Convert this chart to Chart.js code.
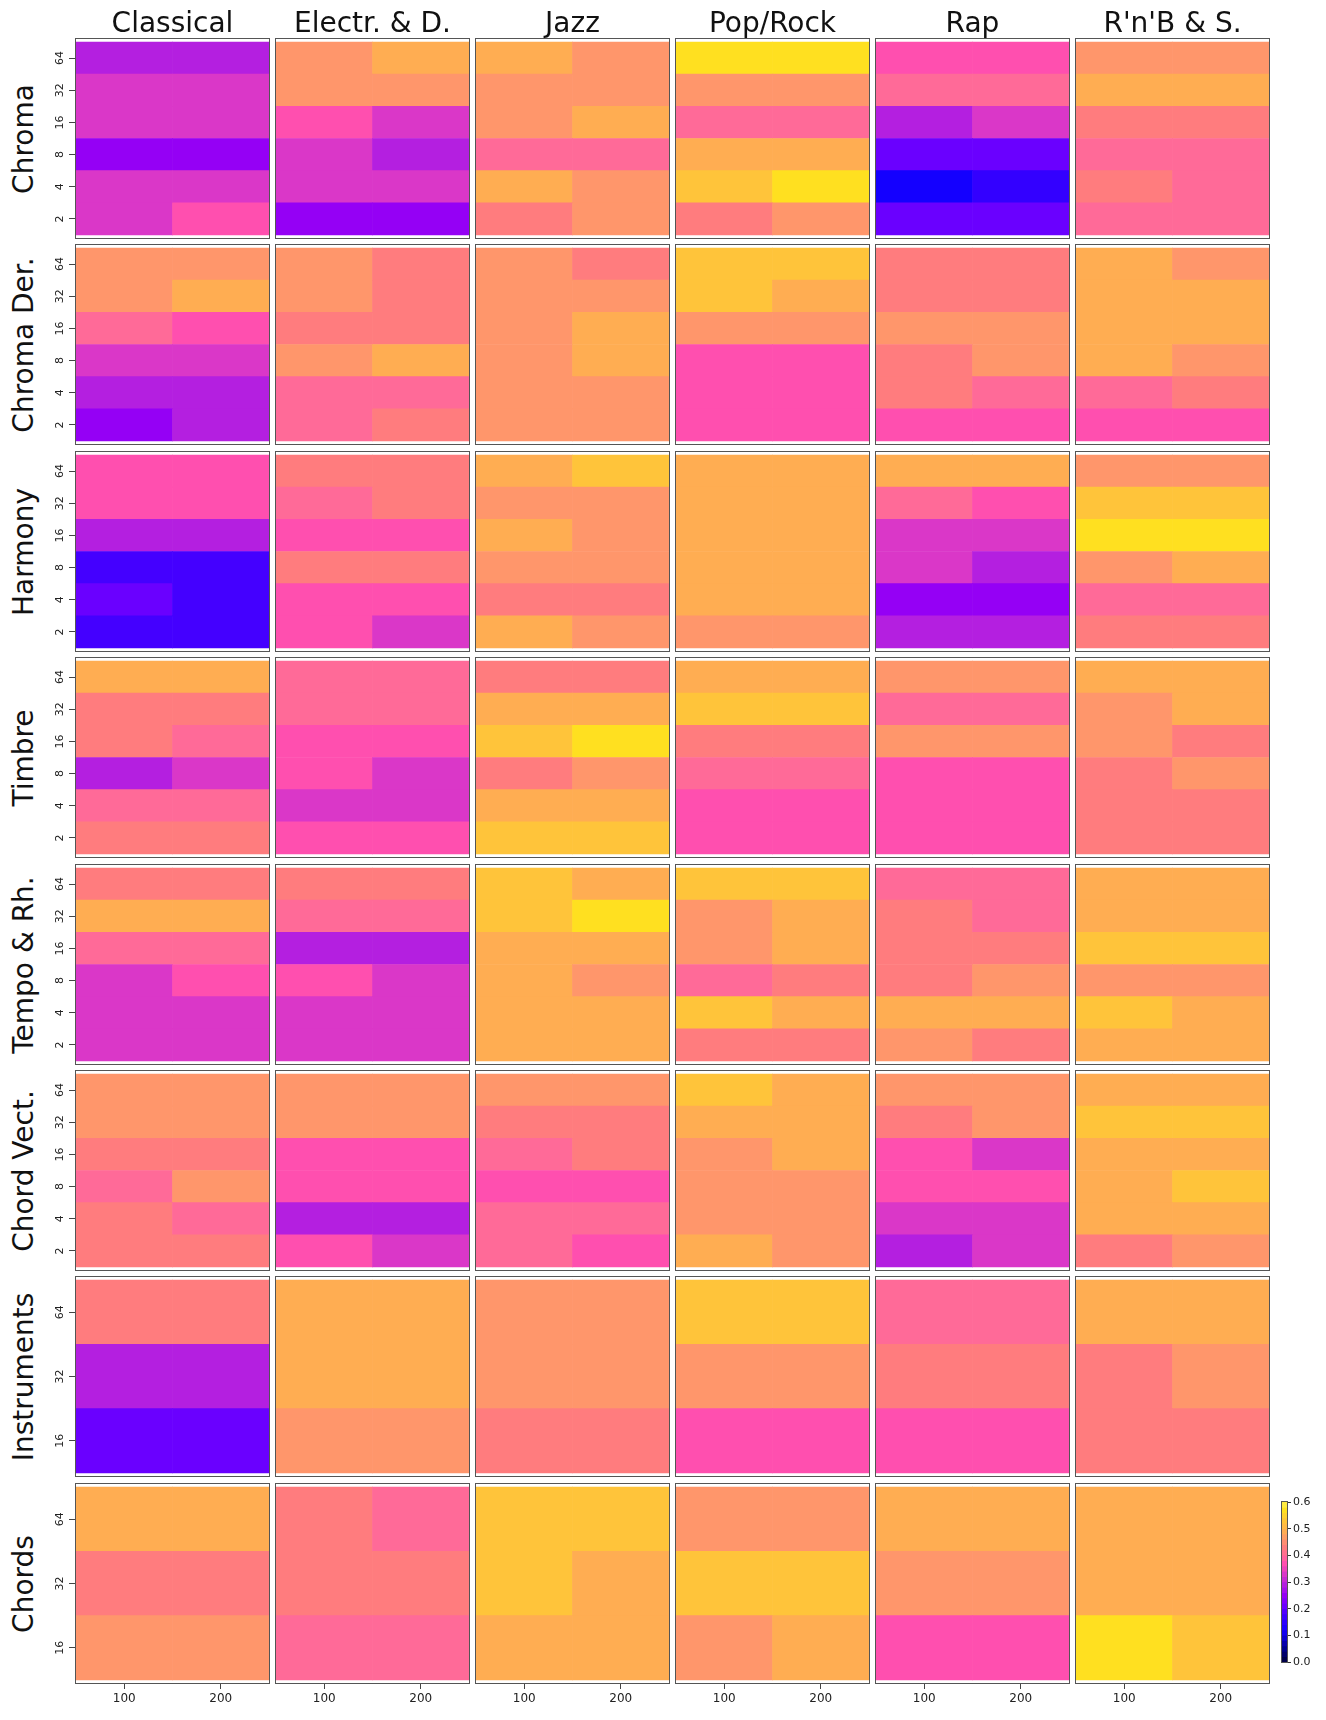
<!DOCTYPE html>
<html>
<head>
<meta charset="utf-8">
<script src="https://cdn.jsdelivr.net/npm/chart.js@4.4.0/dist/chart.umd.min.js"></script>
<style>
  body { margin: 0; background: #fff; }
  #page { position: relative; width: 1326px; height: 1720px; font-family: "DejaVu Sans", sans-serif; color: #111; }
  #page canvas { position: absolute; }
  .head { position: absolute; height: 34px; line-height: 34px; font-size: 28px; text-align: center; white-space: nowrap; }
  .rowlab { position: absolute; width: 220px; height: 34px; line-height: 34px; font-size: 28px; text-align: center; white-space: nowrap; transform: rotate(-90deg); }
</style>
</head>
<body>
<div id="page"></div>
<script>
// Categories
const genres = ['Classical', 'Electr. & D.', 'Jazz', 'Pop/Rock', 'Rap', "R'n'B & S."];
const features = ['Chroma', 'Chroma Der.', 'Harmony', 'Timbre', 'Tempo & Rh.', 'Chord Vect.', 'Instruments', 'Chords'];
const windowsLong = ['64', '32', '16', '8', '4', '2'];
const windowsShort = ['64', '32', '16'];
const xTicks = [100, 200];
const colorTicks = [0, 0.1, 0.2, 0.3, 0.4, 0.5, 0.6];

// values: one entry per genre, rows from top (64) to bottom, [100, 200]
const chroma = [
  [[.29,.29],[.33,.33],[.33,.33],[.25,.25],[.33,.33],[.33,.37]],
  [[.46,.49],[.46,.46],[.37,.33],[.33,.29],[.33,.33],[.25,.25]],
  [[.49,.46],[.46,.46],[.46,.49],[.40,.40],[.49,.46],[.43,.46]],
  [[.57,.57],[.46,.46],[.40,.40],[.49,.49],[.53,.57],[.43,.46]],
  [[.37,.37],[.40,.40],[.29,.33],[.21,.21],[.12,.16],[.21,.21]],
  [[.46,.46],[.49,.49],[.43,.43],[.40,.40],[.43,.40],[.40,.40]]
];
const chromaDer = [
  [[.46,.46],[.46,.49],[.40,.37],[.33,.33],[.29,.29],[.25,.29]],
  [[.46,.43],[.46,.43],[.43,.43],[.46,.49],[.40,.40],[.40,.43]],
  [[.46,.43],[.46,.46],[.46,.49],[.46,.49],[.46,.46],[.46,.46]],
  [[.53,.53],[.53,.49],[.46,.46],[.37,.37],[.37,.37],[.37,.37]],
  [[.43,.43],[.43,.43],[.46,.46],[.43,.46],[.43,.40],[.37,.37]],
  [[.49,.46],[.49,.49],[.49,.49],[.49,.46],[.40,.43],[.37,.37]]
];
const harmony = [
  [[.37,.37],[.37,.37],[.29,.29],[.18,.18],[.21,.18],[.18,.18]],
  [[.43,.43],[.40,.43],[.37,.37],[.43,.43],[.37,.37],[.37,.33]],
  [[.49,.53],[.46,.46],[.49,.46],[.46,.46],[.43,.43],[.49,.46]],
  [[.49,.49],[.49,.49],[.49,.49],[.49,.49],[.49,.49],[.46,.46]],
  [[.49,.49],[.40,.37],[.33,.33],[.33,.29],[.25,.25],[.29,.29]],
  [[.46,.46],[.53,.53],[.57,.57],[.46,.49],[.40,.40],[.43,.43]]
];
const timbre = [
  [[.49,.49],[.43,.43],[.43,.40],[.29,.33],[.40,.40],[.43,.43]],
  [[.40,.40],[.40,.40],[.37,.37],[.37,.33],[.33,.33],[.37,.37]],
  [[.43,.43],[.49,.49],[.53,.57],[.43,.46],[.49,.49],[.53,.53]],
  [[.49,.49],[.53,.53],[.43,.43],[.40,.40],[.37,.37],[.37,.37]],
  [[.46,.46],[.40,.40],[.46,.46],[.37,.37],[.37,.37],[.37,.37]],
  [[.49,.49],[.46,.49],[.46,.43],[.43,.46],[.43,.43],[.43,.43]]
];
const tempo = [
  [[.43,.43],[.49,.49],[.40,.40],[.33,.37],[.33,.33],[.33,.33]],
  [[.43,.43],[.40,.40],[.29,.29],[.37,.33],[.33,.33],[.33,.33]],
  [[.53,.49],[.53,.57],[.49,.49],[.49,.46],[.49,.49],[.49,.49]],
  [[.53,.53],[.46,.49],[.46,.49],[.40,.43],[.53,.49],[.43,.43]],
  [[.40,.40],[.43,.40],[.43,.43],[.43,.46],[.49,.49],[.46,.43]],
  [[.49,.49],[.49,.49],[.53,.53],[.46,.46],[.53,.49],[.49,.49]]
];
const chordVect = [
  [[.46,.46],[.46,.46],[.43,.43],[.40,.46],[.43,.40],[.43,.43]],
  [[.46,.46],[.46,.46],[.37,.37],[.37,.37],[.29,.29],[.37,.33]],
  [[.46,.46],[.43,.43],[.40,.43],[.37,.37],[.40,.40],[.40,.37]],
  [[.53,.49],[.49,.49],[.46,.49],[.46,.46],[.46,.46],[.49,.46]],
  [[.46,.46],[.43,.46],[.37,.33],[.37,.37],[.33,.33],[.29,.33]],
  [[.49,.49],[.53,.53],[.49,.49],[.49,.53],[.49,.49],[.43,.46]]
];
const instruments = [
  [[.43,.43],[.29,.29],[.21,.21]],
  [[.49,.49],[.49,.49],[.46,.46]],
  [[.46,.46],[.46,.46],[.43,.43]],
  [[.53,.53],[.46,.46],[.37,.37]],
  [[.40,.40],[.43,.43],[.37,.37]],
  [[.49,.49],[.43,.46],[.43,.43]]
];
const chords = [
  [[.49,.49],[.43,.43],[.46,.46]],
  [[.43,.40],[.43,.43],[.40,.40]],
  [[.53,.53],[.53,.49],[.49,.49]],
  [[.46,.46],[.53,.53],[.46,.49]],
  [[.49,.49],[.46,.46],[.37,.37]],
  [[.49,.49],[.49,.49],[.57,.53]]
];
const featureData = [chroma, chromaDer, harmony, timbre, tempo, chordVect, instruments, chords];

// colour scale
const stops = [
  [0.00, '#00003a'], [0.05, '#00008c'], [0.12, '#1400ff'], [0.15, '#2a00ff'],
  [0.18, '#4400ff'], [0.21, '#6a00ff'], [0.25, '#9500f5'], [0.29, '#b41fe0'],
  [0.33, '#da37c8'], [0.37, '#ff4faf'], [0.40, '#ff6a98'], [0.43, '#ff7c7e'],
  [0.46, '#ff966b'], [0.49, '#ffad52'], [0.53, '#ffc43a'], [0.57, '#ffe020'],
  [0.60, '#fff050']
];
function hexRgb(h) {
  return [parseInt(h.slice(1, 3), 16), parseInt(h.slice(3, 5), 16), parseInt(h.slice(5, 7), 16)];
}
function colorFor(v) {
  if (v <= stops[0][0]) return stops[0][1];
  for (let i = 1; i < stops.length; i++) {
    if (v <= stops[i][0] + 1e-9) {
      const [v0, c0] = stops[i - 1], [v1, c1] = stops[i];
      const t = (v - v0) / (v1 - v0);
      const a = hexRgb(c0), b = hexRgb(c1);
      const m = a.map((x, k) => Math.round(x + (b[k] - x) * t));
      return `rgb(${m[0]},${m[1]},${m[2]})`;
    }
  }
  return stops[stops.length - 1][1];
}

Chart.defaults.font.family = '"DejaVu Sans", sans-serif';
Chart.defaults.color = '#222';

const page = document.getElementById('page');

// box round the plot area
const frame = {
  id: 'frame',
  afterDraw(chart) {
    const { ctx, chartArea: a } = chart;
    ctx.save();
    ctx.strokeStyle = '#555';
    ctx.lineWidth = 1;
    ctx.strokeRect(Math.round(a.left) - 0.5, Math.round(a.top) - 0.5, Math.round(a.width) + 1, Math.round(a.height) + 1);
    ctx.restore();
  }
};

function addCanvas(left, top, w, h) {
  const cv = document.createElement('canvas');
  cv.width = w; cv.height = h;
  cv.style.left = left + 'px'; cv.style.top = top + 'px';
  cv.style.width = w + 'px'; cv.style.height = h + 'px';
  page.appendChild(cv);
  return cv;
}

// keep the plot area where we put it, whatever the tick labels want
function fixSize(s, size) {
  if (s.isHorizontal()) s.height = size; else s.width = size;
  s.paddingTop = 0; s.paddingBottom = 0; s.paddingLeft = 0; s.paddingRight = 0;
}

const PAD = 3, YAX = 30, XAX = 26;
const PW = 193, PH = 199;
const panelX = c => 76 + 200 * c;
const panelY = r => Math.round(39 + 206.4 * r);

function makePanel(r, c) {
  const rows = featureData[r][c];
  const n = rows.length;
  const labels = n === 6 ? windowsLong : windowsShort;
  const isLeft = c === 0, isBottom = r === features.length - 1;
  const d = n * 3 / 193;
  const w = PW + 2 * PAD + (isLeft ? YAX : 0);
  const h = PH + 2 * PAD + (isBottom ? XAX : 0);
  const cv = addCanvas(panelX(c) - PAD - (isLeft ? YAX : 0), panelY(r) - PAD, w, h);

  const points = [], colors = [];
  rows.forEach((pair, i) => {
    pair.forEach((v, j) => {
      points.push({ x: j === 0 ? [50, 150] : [150, 250], y: n - i });
      colors.push(colorFor(v));
    });
  });

  new Chart(cv, {
    type: 'bar',
    data: { datasets: [{ data: points, backgroundColor: colors, borderWidth: 0, barPercentage: 1, categoryPercentage: 1 }] },
    options: {
      indexAxis: 'y',
      responsive: false,
      animation: false,
      devicePixelRatio: 1,
      layout: { padding: PAD },
      plugins: { legend: { display: false }, tooltip: { enabled: false } },
      scales: {
        x: {
          type: 'linear', min: 50, max: 250, display: isBottom, offset: false,
          afterBuildTicks: s => { s.ticks = xTicks.map(v => ({ value: v })); },
          afterFit: s => fixSize(s, isBottom ? XAX : 0),
          grid: { drawOnChartArea: false, tickLength: 6, color: '#444', offset: false },
          border: { display: false },
          ticks: { font: { size: 12 }, color: '#222', padding: 3, maxRotation: 0 }
        },
        y: {
          type: 'linear', min: 0.5 - d, max: n + 0.5 + d, display: isLeft, offset: false,
          afterBuildTicks: s => { s.ticks = labels.map((l, i) => ({ value: n - i })); },
          afterFit: s => fixSize(s, isLeft ? YAX : 0),
          grid: { drawOnChartArea: false, tickLength: 7, color: '#444', offset: false },
          border: { display: false },
          ticks: {
            callback: v => labels[n - v],
            minRotation: 90, maxRotation: 90, crossAlign: 'center',
            font: { size: 11 }, color: '#222', padding: 2
          }
        }
      }
    },
    plugins: [frame]
  });
}

features.forEach((f, r) => genres.forEach((g, c) => makePanel(r, c)));

// column headers
genres.forEach((g, c) => {
  const el = document.createElement('div');
  el.className = 'head';
  el.textContent = g;
  el.style.left = (panelX(c) - 20) + 'px';
  el.style.width = (PW + 40) + 'px';
  el.style.top = '6px';
  page.appendChild(el);
});

// row labels
features.forEach((f, r) => {
  const el = document.createElement('div');
  el.className = 'rowlab';
  el.textContent = f;
  const cy = panelY(r) + PH / 2;
  el.style.left = (24 - 110) + 'px';
  el.style.top = (cy - 17) + 'px';
  page.appendChild(el);
});

// colour bar
const barBins = [];
for (let k = 0; k < 30; k++) barBins.push((k + 0.5) * 0.02);
const CBX = 1282, CBY = 1502, CBW = 5, CBH = 160, CBAX = 36, CBV = 10;
const cbCanvas = addCanvas(CBX - PAD, CBY - CBV, CBW + 2 * PAD + CBAX, CBH + 2 * CBV);
new Chart(cbCanvas, {
  type: 'bar',
  data: {
    datasets: [{
      data: barBins.map(v => ({ x: [0, 1], y: v })),
      backgroundColor: barBins.map(colorFor),
      borderWidth: 0, barPercentage: 1, categoryPercentage: 1
    }]
  },
  options: {
    indexAxis: 'y',
    responsive: false,
    animation: false,
    devicePixelRatio: 1,
    layout: { padding: { left: PAD, right: PAD, top: CBV, bottom: CBV } },
    plugins: { legend: { display: false }, tooltip: { enabled: false } },
    scales: {
      x: { type: 'linear', min: 0, max: 1, display: false, afterFit: s => fixSize(s, 0) },
      y: {
        type: 'linear', position: 'right', min: 0, max: 0.6, offset: false,
        afterBuildTicks: s => { s.ticks = colorTicks.map(v => ({ value: v })); },
        afterFit: s => fixSize(s, CBAX),
        grid: { drawOnChartArea: false, tickLength: 4, color: '#333', offset: false },
        border: { display: false },
        ticks: { callback: v => v.toFixed(1), font: { size: 11 }, color: '#222', padding: 2 }
      }
    }
  },
  plugins: [frame]
});
</script>
</body>
</html>
